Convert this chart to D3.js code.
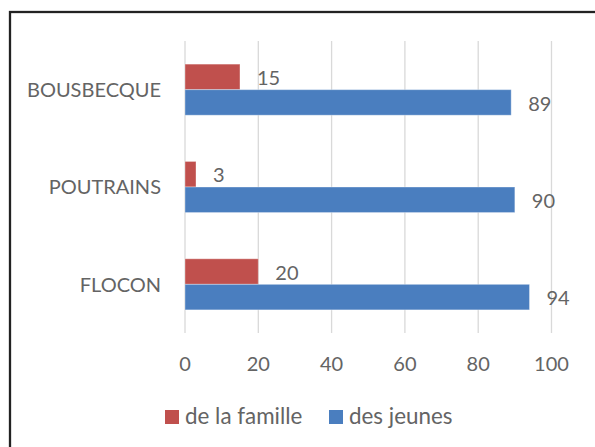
<!DOCTYPE html>
<html>
<head>
<meta charset="utf-8">
<script src="https://cdn.jsdelivr.net/npm/d3@7"></script>
<style>
    body { margin: 0; background: white; }
    text { font-family: Lato, "Open Sans", sans-serif; fill: #646464; }
</style>
</head>
<body>
<div id="root"></div>
<script>
// data
const categories = ["BOUSBECQUE", "POUTRAINS", "FLOCON"]
const seriesNames = ["de la famille", "des jeunes"]
const famille = [15, 3, 20]
const jeunes = [89, 90, 94]
const xTicks = [0, 20, 40, 60, 80, 100]
const colors = ["#C0504D", "#4A7EBF"]

function drawChart() {
    const w = 595, h = 447
    const fs = 20

    const svg = d3.select("#root").append("svg")
        .attr("width", w)
        .attr("height", h)

    svg.append("rect")
        .attr("x", 0).attr("y", 0)
        .attr("width", w).attr("height", h)
        .attr("fill", "white")

    // outer frame (runs off right and bottom)
    svg.append("rect")
        .attr("x", 10).attr("y", 12)
        .attr("width", w + 20).attr("height", h + 20)
        .attr("fill", "none")
        .attr("stroke", "#222")
        .attr("stroke-width", 2.3)

    //scales
    const x = d3.scaleLinear()
        .domain([0, 100])
        .range([185, 551.5])

    const y = d3.scaleBand()
        .domain(categories)
        .range([41, 333])
        .paddingInner(0.475)
        .paddingOuter(0.2375)

    const sub = d3.scaleBand()
        .domain(seriesNames)
        .range([0, y.bandwidth()])

    // grid
    svg.selectAll("line.grid")
        .data(xTicks)
        .enter()
        .append("line")
        .attr("class", "grid")
        .attr("x1", d => x(d)).attr("x2", d => x(d))
        .attr("y1", 41).attr("y2", 333)
        .attr("stroke", "#d9d9d9")
        .attr("stroke-width", 1.3)

    // tick labels
    svg.selectAll("text.tick")
        .data(xTicks)
        .enter()
        .append("text")
        .attr("class", "tick")
        .attr("x", d => x(d))
        .attr("y", 371)
        .attr("text-anchor", "middle")
        .attr("font-size", fs)
        .text(d => d)

    // category labels
    svg.selectAll("text.cat")
        .data(categories)
        .enter()
        .append("text")
        .attr("class", "cat")
        .attr("x", 161)
        .attr("y", d => y(d) + y.bandwidth() / 2)
        .attr("dy", "0.36em")
        .attr("text-anchor", "end")
        .attr("font-size", fs)
        .text(d => d)

    const rows = []
    categories.forEach((c, i) => {
        rows.push({cat: c, s: seriesNames[0], v: famille[i], color: colors[0]})
        rows.push({cat: c, s: seriesNames[1], v: jeunes[i], color: colors[1]})
    })

    svg.selectAll("rect.bar")
        .data(rows)
        .enter()
        .append("rect")
        .attr("class", "bar")
        .attr("x", x(0))
        .attr("y", d => y(d.cat) + sub(d.s))
        .attr("width", d => x(d.v) - x(0))
        .attr("height", sub.bandwidth())
        .attr("fill", d => d.color)
        .attr("stroke", "white")
        .attr("stroke-opacity", 0.35)
        .attr("stroke-width", 1)

    // value labels
    svg.selectAll("text.val")
        .data(rows)
        .enter()
        .append("text")
        .attr("class", "val")
        .attr("x", d => x(d.v) + 17)
        .attr("y", d => y(d.cat) + sub(d.s) + sub.bandwidth() / 2 + 1)
        .attr("dy", "0.36em")
        .attr("font-size", fs)
        .text(d => d.v)

    // legend
    const legX = [165, 329]
    const leg = svg.selectAll("g.leg")
        .data(seriesNames)
        .enter()
        .append("g")
        .attr("class", "leg")
        .attr("transform", (d, i) => "translate(" + legX[i] + ",410)")

    leg.append("rect")
        .attr("width", 14).attr("height", 14)
        .attr("fill", (d, i) => colors[i])

    leg.append("text")
        .attr("x", 20)
        .attr("y", 14)
        .attr("font-size", 22.4)
        .text(d => d)
}

drawChart()
</script>
</body>
</html>
